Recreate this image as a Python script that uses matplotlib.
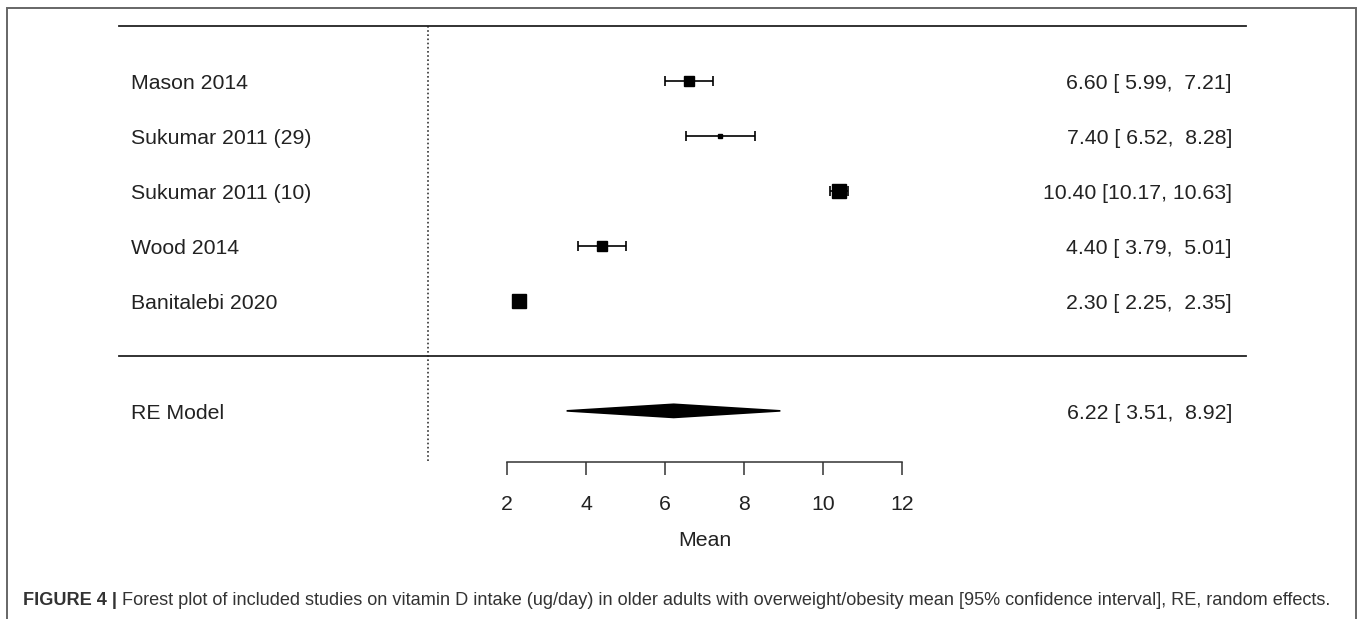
import matplotlib
matplotlib.use('Agg')

import numpy as np
import matplotlib.pyplot as plt
from matplotlib.patches import Polygon, Rectangle
from matplotlib.lines import Line2D
import matplotlib.transforms as mtransforms

plt.rcParams['font.family'] = ['Liberation Sans', 'DejaVu Sans']

# study data: mean intake (ug/day) and 95% CI
studies = ['Mason 2014', 'Sukumar 2011 (29)', 'Sukumar 2011 (10)', 'Wood 2014', 'Banitalebi 2020']
means = [6.60, 7.40, 10.40, 4.40, 2.30]
ci_low = [5.99, 6.52, 10.17, 3.79, 2.25]
ci_high = [7.21, 8.28, 10.63, 5.01, 2.35]

# random effects model
re_label = 'RE Model'
re_mean = 6.22
re_low = 3.51
re_high = 8.92

x_ticks = [2, 4, 6, 8, 10, 12]
x_label = 'Mean'
caption_bold = 'FIGURE 4 |'
caption_text = ('Forest plot of included studies on vitamin D intake (ug/day) in older adults with '
                'overweight/obesity mean [95% confidence interval], RE, random effects.')

W, H = 1357, 619
fig = plt.figure(figsize=(W / 100, H / 100), dpi=100)

# axes placed so that x=2..12 sits at px 507..902 and rows span px 26..462
ax = fig.add_axes([507 / W, 1 - 462 / H, (902 - 507) / W, (462 - 26) / H])
ax.set_xlim(2, 12)
ax.set_ylim(-1.93, 6)
ax.patch.set_visible(False)
for s in ['top', 'right', 'left']:
    ax.spines[s].set_visible(False)
ax.spines['bottom'].set_color('#333333')
ax.spines['bottom'].set_linewidth(1.1)
ax.set_yticks([])
ax.set_xticks(x_ticks)
ax.tick_params(axis='x', direction='out', length=9.4, width=1.1, color='#333333',
               pad=14.5, labelsize=15.3, labelcolor='#222222')
ax.set_xlabel(x_label, fontsize=15.3, color='#222222', labelpad=12)

k = len(studies)
rows = np.arange(k, 0, -1)

# point sizes from random-effects weights, as metafor does
vi = ((np.array(ci_high) - np.array(ci_low)) / (2 * 1.96)) ** 2
se_re = (re_high - re_low) / (2 * 1.96)
tau2 = k * se_re ** 2 - vi.mean()
wi = 1 / (vi + tau2)
wi = wi / wi.sum()
psize = (wi - wi.min()) / (wi.max() - wi.min()) + 0.5

for i in range(k):
    ax.errorbar(means[i], rows[i],
                xerr=[[means[i] - ci_low[i]], [ci_high[i] - means[i]]],
                fmt='none', ecolor='black', elinewidth=1.2, capsize=3.5, capthick=1.2,
                clip_on=False)
    ax.plot(means[i], rows[i], marker='s', color='black', linestyle='None',
            markersize=psize[i] * 7.0, clip_on=False)

# summary diamond
dh = 0.12
ax.add_patch(Polygon([[re_low, -1], [re_mean, -1 + dh], [re_high, -1], [re_mean, -1 - dh]],
                     closed=True, facecolor='black', edgecolor='black', lw=1.2, clip_on=False))

# reference line at 0
ax.plot([0, 0], [6, -1.93], linestyle=(0, (1, 1.5)), color='#333333', lw=1.2, clip_on=False)

# horizontal rules across the plot
blend = mtransforms.blended_transform_factory(fig.transFigure, ax.transData)
for yy in [6, 0]:
    ax.add_line(Line2D([119 / W, 1246 / W], [yy, yy], transform=blend, color='#222222',
                       lw=1.3, clip_on=False))

# labels and annotations (nudged down a couple of px to sit on the marks)
tblend = blend + mtransforms.ScaledTranslation(0, -2.5 / 100, fig.dpi_scale_trans)
for i in range(k):
    ax.text(131 / W, rows[i], studies[i], transform=tblend, ha='left', va='center',
            fontsize=15.3, color='#222222')
    txt = '%.2f [%5.2f, %5.2f]' % (means[i], ci_low[i], ci_high[i])
    ax.text(1232 / W, rows[i], txt, transform=tblend, ha='right', va='center',
            fontsize=15.3, color='#222222')
ax.text(131 / W, -1, re_label, transform=tblend, ha='left', va='center',
        fontsize=15.3, color='#222222')
ax.text(1232 / W, -1, '%.2f [%5.2f, %5.2f]' % (re_mean, re_low, re_high), transform=tblend,
        ha='right', va='center', fontsize=15.3, color='#222222')

# outer frame
fig.add_artist(Rectangle((7 / W, -0.05), (1356 - 7) / W, 1.05 - 8 / H, transform=fig.transFigure,
                         fill=False, edgecolor='#666666', lw=1.4))

# caption
t1 = fig.text(23 / W, 1 - 605 / H, caption_bold, ha='left', va='baseline',
              fontsize=13.1, fontweight='bold', color='#333333')
fig.canvas.draw()
bb = t1.get_window_extent()
fig.text(bb.x1 / W + 5 / W, 1 - 605 / H, caption_text, ha='left', va='baseline',
         fontsize=13.1, color='#333333')

fig.savefig('out.png', dpi=100)
